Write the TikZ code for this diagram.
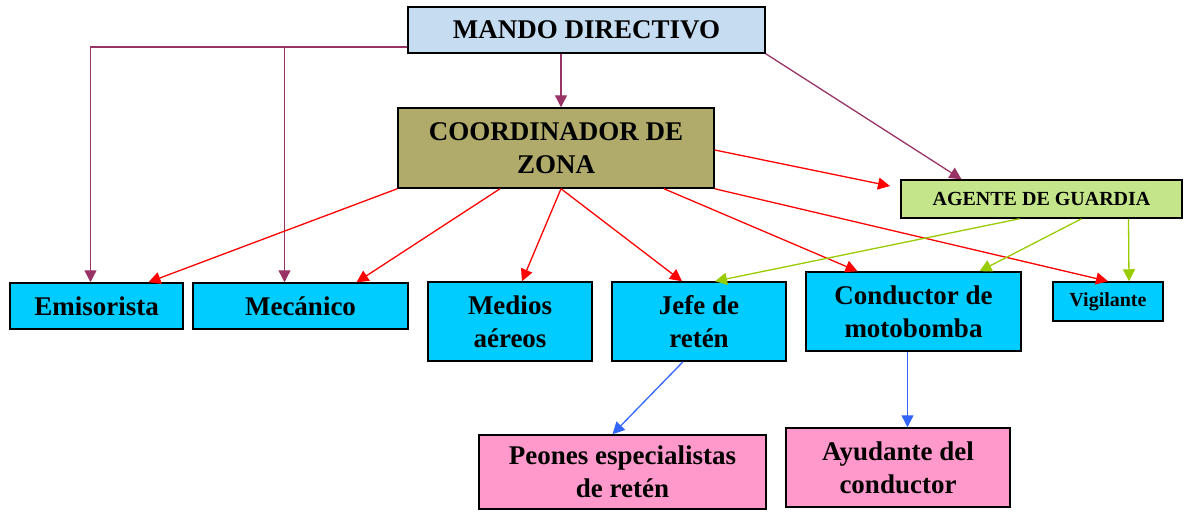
\documentclass[tikz,border=0pt]{standalone}
\usepackage{fontspec}
\setmainfont{Liberation Serif}
\usepackage{tikz}
\usetikzlibrary{calc,arrows.meta}
\definecolor{mandofill}{RGB}{198,220,240}
\definecolor{coordfill}{RGB}{176,171,106}
\definecolor{agentefill}{RGB}{196,229,137}
\definecolor{cyanfill}{RGB}{0,204,255}
\definecolor{pinkfill}{RGB}{255,153,204}
\definecolor{plumline}{RGB}{153,51,102}
\definecolor{redline}{RGB}{255,0,0}
\definecolor{limeline}{RGB}{153,204,0}
\definecolor{blueline}{RGB}{51,102,255}
\def\drawplum{\draw[conn,color=plumline]}
\def\drawred{\draw[conn,color=redline]}
\def\drawlime{\draw[conn,color=limeline]}
\def\drawblue{\draw[conn,color=blueline]}
\def\cyanbox{\node[box,fill=cyanfill]}
\def\pinkbox{\node[box,fill=pinkfill]}

\begin{document}
\begin{tikzpicture}[x=0.5pt,y=-0.5pt,
  box/.style={draw=black,line width=0.75pt,inner sep=0pt,align=center,
    font=\fontsize{13.5}{16.3}\selectfont\bfseries},
  small/.style={font=\fontsize{10}{12}\selectfont\bfseries},
  conn/.style={line width=0.65pt,-{Triangle[length=6pt,width=6pt]}}]
\useasboundingbox (0,0) rectangle (1184,511);
\node[box,fill=mandofill,minimum width=178.5pt,minimum height=23pt] (mando) at (586.5,30) {MANDO DIRECTIVO};
\node[box,fill=coordfill,minimum width=158pt,minimum height=40pt] (coord) at (556,148) {COORDINADOR DE\\ZONA};
\node[box,small,fill=agentefill,minimum width=140.5pt,minimum height=19pt] (agente) at (1041.5,199) {AGENTE DE GUARDIA};
\cyanbox[minimum width=86.5pt,minimum height=23pt] (emis) at (96.5,306) {Emisorista};
\cyanbox[minimum width=107.5pt,minimum height=23pt] (meca) at (300.5,306) {Mecánico};
\cyanbox[minimum width=82pt,minimum height=39.5pt] (medios) at (510,321.5) {Medios\\aéreos};
\cyanbox[minimum width=87pt,minimum height=39.5pt] (jefe) at (699,321.5) {Jefe de\\retén};
\cyanbox[minimum width=107.5pt,minimum height=39.5pt] (cond) at (913.5,311.5) {Conductor de\\motobomba};
\cyanbox[small,minimum width=55pt,minimum height=19.5pt] (vigi) at (1108,301.5) {Vigilante};
\pinkbox[minimum width=143.5pt,minimum height=37pt] (peones) at (622.5,472) {Peones especialistas\\de retén};
\pinkbox[minimum width=112pt,minimum height=39.5pt] (ayud) at (898,467.5) {Ayudante del\\conductor};
\coordinate (mleft) at ([yshift=-8.5pt]mando.west);
\coordinate (mecatop) at ([xshift=-8pt]meca.north);
\coordinate (guardtip) at (890,186);
% mando directivo
\drawplum (mleft) -| ([xshift=-3pt]emis.north);
\drawplum (mecatop |- mleft) -- (mecatop);
\drawplum ([xshift=2.5pt]coord.north |- mando.south) -- ([xshift=2.5pt]coord.north);
\drawplum (mando.south east) -- ([xshift=-40pt]agente.north);
% coordinador de zona
\drawred (coord.south west) -- ([xshift=26pt]emis.north);
\drawred ([xshift=-28pt]coord.south) -- ([xshift=28pt]meca.north);
\drawred ([xshift=2.5pt]coord.south) -- ([xshift=6pt]medios.north);
\drawred ([xshift=2.5pt]coord.south) -- ([xshift=-8.5pt]jefe.north);
\drawred ([xshift=54pt]coord.south) -- ([xshift=-28pt]cond.north);
\drawred (coord.south east) -- (vigi.north);
\drawred ([yshift=-1pt]coord.east) -- (guardtip);
% agente de guardia
\drawlime ([xshift=-11pt]agente.south) -- ([xshift=8pt]jefe.north);
\drawlime ([xshift=20pt]agente.south) -- ([xshift=33pt]cond.north);
\drawlime ([xshift=43.5pt]agente.south) -- ([xshift=10.5pt]vigi.north);
% mandos de brigada
\drawblue ([xshift=-8pt]jefe.south) -- ([xshift=-5pt]peones.north);
\drawblue ([xshift=-3pt]cond.south) -- ([xshift=-3pt]cond.south |- ayud.north);
\end{tikzpicture}
\end{document}
